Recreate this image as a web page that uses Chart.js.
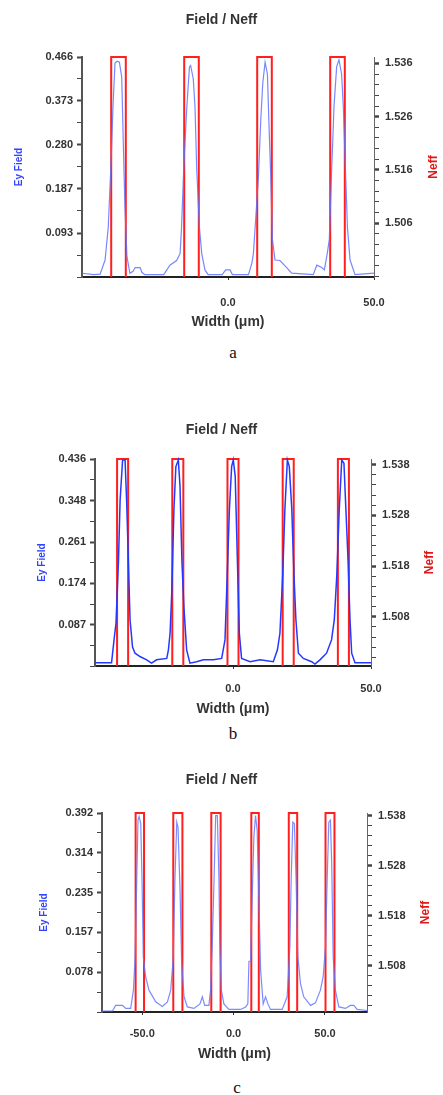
<!DOCTYPE html>
<html>
<head>
<meta charset="utf-8">
<script src="https://cdn.jsdelivr.net/npm/chart.js@4.4.0/dist/chart.umd.min.js"></script>
<style>
  body { margin: 0; background: #fff; width: 443px; height: 1095px; position: relative; overflow: hidden; }
  canvas { position: absolute; left: 0; }
  .cap { position: absolute; width: 30px; text-align: center; font: 17px "Liberation Serif", serif; color: #111; }
</style>
</head>
<body>
<canvas id="ca" width="443" height="335" style="top:0"></canvas>
<canvas id="cb" width="443" height="312" style="top:410px"></canvas>
<canvas id="cc" width="443" height="307" style="top:760px"></canvas>
<div class="cap" style="left:218px;top:343px">a</div>
<div class="cap" style="left:218px;top:724px">b</div>
<div class="cap" style="left:222px;top:1078px">c</div>
<script>
// panel a
const aX =     [-50, -46, -43.8, -42.1, -41, -40, -39.4, -38.7, -38, -37.2, -36.4, -35.8, -35.3, -34.6, -33.6, -32.5, -31.8, -30.1, -29.5, -28.5,
                -22, -19.9, -17.6, -16.4, -15.9, -15.1, -14.1, -13.2, -12.8, -11.9, -11.3, -10.7, -9.8, -9, -7.9, -6.8, -2, -0.8, 0.7, 1.5,
                7, 8.2, 8.7, 9.2, 10.4, 11.2, 11.9, 12.7, 13.5, 14, 14.6, 15.2, 16.1, 17.8, 20.1, 21.8, 29.2, 30.4, 32.1, 33,
                34, 34.7, 35.5, 36.3, 37.2, 38, 38.9, 39.5, 40.1, 40.9, 41.8, 43.5, 50]
const aField = [0.008, 0.005, 0.006, 0.036, 0.106, 0.25, 0.36, 0.453, 0.457, 0.455, 0.424, 0.27, 0.149, 0.043, 0.008, 0.012, 0.02, 0.02, 0.01, 0.005,
                0.005, 0.025, 0.035, 0.05, 0.106, 0.24, 0.36, 0.445, 0.448, 0.42, 0.36, 0.226, 0.106, 0.05, 0.015, 0.005, 0.005, 0.015, 0.015, 0.005,
                0.005, 0.03, 0.05, 0.096, 0.21, 0.33, 0.41, 0.455, 0.43, 0.33, 0.22, 0.08, 0.036, 0.035, 0.02, 0.008, 0.005, 0.025, 0.02, 0.015,
                0.05, 0.08, 0.226, 0.36, 0.445, 0.46, 0.43, 0.36, 0.25, 0.106, 0.036, 0.005, 0.008]
const aGuideStart = [-40, -15, 10, 35]
const aGuideEnd = [-35, -10, 15, 40]
const aIndex = [1.4959, 1.5372]
const aRange = [-50, 50]
const aLeftLabels = ['0.093', '0.187', '0.280', '0.373', '0.466']
const aRightLabels = ['1.506', '1.516', '1.526', '1.536']
const aXLabels = ['0.0', '50.0']

// panel b
const bX =     [-50, -44, -43.1, -42.4, -41.5, -40.9, -40, -39.1, -38.5, -37.9, -37.3, -36.4, -35.5, -33.7, -31.3, -29.5, -27.7, -24, -23.4, -22.8,
                -22.2, -21.4, -20.7, -19.8, -19.2, -18.5, -17.8, -16.8, -15.6, -13.2, -10.7, -7.1, -4.1, -2.9, -2.1, -1.3, -0.5, 0.1, 0.8, 1.6,
                2.3, 3.1, 6.2, 9.8, 14.6, 16.1, 17, 18, 18.8, 19.7, 20.4, 21.3, 22.1, 22.8, 23.7, 25.5, 28.5, 29.7, 31.5, 33.9,
                35.7, 36.7, 37.6, 38.5, 39.4, 40.2, 40.9, 41.7, 42.4, 43, 44.2, 50]
const bField = [0.007, 0.007, 0.055, 0.09, 0.22, 0.35, 0.434, 0.434, 0.34, 0.22, 0.097, 0.04, 0.027, 0.02, 0.013, 0.006, 0.013, 0.016, 0.034, 0.069,
                0.153, 0.33, 0.42, 0.434, 0.378, 0.22, 0.125, 0.034, 0.006, 0.009, 0.013, 0.013, 0.016, 0.055, 0.19, 0.33, 0.42, 0.434, 0.40, 0.22,
                0.069, 0.016, 0.009, 0.013, 0.009, 0.034, 0.069, 0.19, 0.33, 0.434, 0.42, 0.33, 0.19, 0.097, 0.027, 0.016, 0.009, 0.004, 0.013, 0.027,
                0.055, 0.097, 0.19, 0.33, 0.434, 0.427, 0.33, 0.22, 0.097, 0.027, 0.007, 0.007]
const bGuideStart = [-42, -22, -2, 18, 38]
const bGuideEnd = [-38, -18, 2, 22, 42]
const bIndex = [1.4983, 1.5391]
const bRange = [-50, 50]
const bLeftLabels = ['0.087', '0.174', '0.261', '0.348', '0.436']
const bRightLabels = ['1.508', '1.518', '1.528', '1.538']
const bXLabels = ['0.0', '50.0']

// panel c
const cX =     [-72, -66.3, -64.5, -60.8, -59, -56.3, -54.8, -53.9, -53, -52.3, -51.7, -50.8, -50.1, -49.4, -48.1, -46.3, -42.6, -39, -36.2, -34.4,
                -33, -32.1, -31.1, -30.4, -29.3, -28.4, -27.1, -25.3, -21.7, -18.4, -17.1, -15.8, -13.5, -12.6, -11.7, -10.7, -9.8, -8.9, -8, -7.5,
                -6.7, -5.3, -2.6, 3.8, 6.6, 7.8, 8.4, 9.3, 10.2, 11.1, 12, 12.9, 13.8, 14.8, 16.2, 17.5, 18.8, 20.2, 26.6, 29.3,
                30.8, 31.5, 32.4, 33.3, 34.2, 35.2, 36.6, 38.4, 42.1, 44.8, 47.5, 49, 50.3, 51.2, 52.1, 53, 53.7, 54.5, 55.7, 57.6,
                61.2, 63.9, 65.8, 67.6, 73]
const cField = [0.002, 0.002, 0.013, 0.013, 0.007, 0.007, 0.043, 0.108, 0.26, 0.378, 0.385, 0.371, 0.26, 0.108, 0.069, 0.043, 0.02, 0.011, 0.02, 0.043,
                0.108, 0.26, 0.374, 0.364, 0.24, 0.095, 0.03, 0.01, 0.007, 0.016, 0.03, 0.013, 0.013, 0.043, 0.128, 0.26, 0.387, 0.387, 0.26, 0.128,
                0.043, 0.016, 0.005, 0.005, 0.01, 0.016, 0.1, 0.1, 0.227, 0.345, 0.387, 0.358, 0.227, 0.082, 0.016, 0.03, 0.016, 0.005, 0.005, 0.03,
                0.128, 0.26, 0.374, 0.371, 0.26, 0.108, 0.056, 0.03, 0.013, 0.018, 0.043, 0.069, 0.128, 0.26, 0.374, 0.378, 0.292, 0.108, 0.043, 0.01,
                0.007, 0.013, 0.013, 0.005, 0.003]
const cGuideStart = [-53.6, -33, -12.2, 9.7, 30.2, 50.3]
const cGuideEnd = [-49, -28, -7.1, 13.8, 34.8, 55.2]
const cIndex = [1.4987, 1.5385]
const cRange = [-72, 73]
const cLeftLabels = ['0.078', '0.157', '0.235', '0.314', '0.392']
const cRightLabels = ['1.508', '1.518', '1.528', '1.538']
const cXLabels = ['-50.0', '0.0', '50.0']

Chart.defaults.font.family = 'Liberation Sans'
Chart.defaults.animation = false

const tickFont = { family: 'Liberation Sans', weight: 'bold', size: 11 }
const near = (a, b) => Math.abs(a - b) < 1e-6

// index profile: one closed box per guide, gaps between them so the bottom stays black
function indexProfile(starts, ends, idx) {
    const pts = []
    starts.forEach((s, i) => {
        pts.push({ x: s, y: idx[0] }, { x: s, y: idx[1] }, { x: ends[i], y: idx[1] }, { x: ends[i], y: idx[0] })
        pts.push({ x: ends[i], y: null })
    })
    return pts
}

// right axis title reads bottom to top, like the left one
const neffTitle = {
    id: 'neffTitle',
    afterDraw(chart, args, opts) {
        const ctx = chart.ctx
        const a = chart.chartArea
        ctx.save()
        ctx.translate(opts.x, (a.top + a.bottom) / 2)
        ctx.rotate(-Math.PI / 2)
        ctx.fillStyle = '#e01818'
        ctx.font = 'bold 12px "Liberation Sans"'
        ctx.textAlign = 'center'
        ctx.textBaseline = 'middle'
        ctx.fillText('Neff', 0, 0)
        ctx.restore()
    }
}

function makePanel(id, p) {
    const leftMajor = p.left.map(Number)
    const leftTicks = [0]
    leftMajor.forEach((v, i) => {
        const prev = i === 0 ? 0 : leftMajor[i - 1]
        leftTicks.push((prev + v) / 2, v)
    })
    const rightMajor = p.right.map(Number)
    const step = (rightMajor[1] - rightMajor[0]) / 5
    const rightTicks = []
    for (let v = rightMajor[0]; v > p.index[0]; v -= step) rightTicks.push(v)
    for (let v = rightMajor[0] + step; v < p.index[1]; v += step) rightTicks.push(v)
    const xTicks = p.xlab.map(Number)
    const b = p.box

    return new Chart(document.getElementById(id), {
        type: 'line',
        data: {
            datasets: [{
                label: 'Neff',
                data: indexProfile(p.starts, p.ends, p.index),
                yAxisID: 'y2',
                borderColor: '#ff1f1f',
                borderWidth: 2,
                pointRadius: 0,
                spanGaps: false,
                clip: false,
                order: 1
            }, {
                label: 'Ey Field',
                data: p.x.map((x, i) => ({ x: x, y: p.field[i] })),
                yAxisID: 'y',
                borderColor: p.blue,
                borderWidth: p.blueWidth,
                pointRadius: 0,
                clip: false,
                order: 0
            }]
        },
        plugins: [neffTitle],
        options: {
            responsive: false,
            layout: { padding: 0 },
            plugins: {
                legend: { display: false },
                tooltip: { enabled: false },
                neffTitle: { x: b.neffX },
                title: {
                    display: true,
                    text: 'Field / Neff',
                    color: '#333',
                    font: { family: 'Liberation Sans', weight: 'bold', size: 14 },
                    padding: { top: b.titleTop, bottom: b.titleBottom }
                }
            },
            scales: {
                x: {
                    type: 'linear',
                    min: p.range[0],
                    max: p.range[1],
                    afterFit: s => { s.height = b.xH },
                    afterBuildTicks: s => { s.ticks = xTicks.map(v => ({ value: v })) },
                    ticks: {
                        autoSkip: false,
                        maxRotation: 0,
                        padding: b.xPad,
                        color: '#333',
                        font: tickFont,
                        callback: v => {
                            const i = xTicks.findIndex(t => near(t, v))
                            return i < 0 ? '' : p.xlab[i]
                        }
                    },
                    grid: { drawOnChartArea: false, tickLength: 3, tickColor: '#333' },
                    border: { color: '#222', width: 2 },
                    title: {
                        display: true,
                        text: 'Width (μm)',
                        color: '#333',
                        font: { family: 'Liberation Sans', weight: 'bold', size: 14 },
                        padding: { top: 0, bottom: 4 }
                    }
                },
                y: {
                    position: 'left',
                    min: 0,
                    max: leftMajor[leftMajor.length - 1],
                    afterFit: s => { s.width = b.leftW },
                    afterBuildTicks: s => { s.ticks = leftTicks.map(v => ({ value: v })) },
                    ticks: {
                        autoSkip: false,
                        padding: 4,
                        color: '#333',
                        font: tickFont,
                        callback: v => {
                            const i = leftMajor.findIndex(t => near(t, v))
                            return i < 0 ? '' : p.left[i]
                        }
                    },
                    grid: {
                        drawOnChartArea: false,
                        tickLength: 5,
                        tickColor: '#444',
                        tickWidth: ctx => leftMajor.some(t => near(t, ctx.tick.value)) ? 2 : 1
                    },
                    border: { color: '#555', width: 2 },
                    title: {
                        display: true,
                        text: 'Ey Field',
                        color: '#3344ff',
                        font: { family: 'Liberation Sans', weight: 'bold', size: 10 },
                        padding: { top: b.yTitlePad, bottom: 0 }
                    }
                },
                y2: {
                    position: 'right',
                    min: p.index[0],
                    max: p.index[1],
                    afterFit: s => { s.width = b.rightW },
                    afterBuildTicks: s => { s.ticks = rightTicks.map(v => ({ value: v })) },
                    ticks: {
                        autoSkip: false,
                        padding: 6,
                        color: '#333',
                        font: tickFont,
                        callback: v => {
                            const i = rightMajor.findIndex(t => near(t, v))
                            return i < 0 ? '' : p.right[i]
                        }
                    },
                    grid: {
                        drawOnChartArea: false,
                        tickLength: 5,
                        tickColor: '#444',
                        tickWidth: ctx => rightMajor.some(t => near(t, ctx.tick.value)) ? 2.5 : 1
                    },
                    border: { color: '#666', width: 1 }
                }
            }
        }
    })
}

makePanel('ca', {
    x: aX, field: aField, starts: aGuideStart, ends: aGuideEnd, index: aIndex, range: aRange,
    left: aLeftLabels, right: aRightLabels, xlab: aXLabels,
    blue: 'rgba(95,115,255,0.85)', blueWidth: 1.2,
    box: { leftW: 82, rightW: 69, xH: 58, titleTop: 12, titleBottom: 28.2, xPad: 16, yTitlePad: 13, neffX: 434 }
})
makePanel('cb', {
    x: bX, field: bField, starts: bGuideStart, ends: bGuideEnd, index: bIndex, range: bRange,
    left: bLeftLabels, right: bRightLabels, xlab: bXLabels,
    blue: '#2638ff', blueWidth: 1.5,
    box: { leftW: 95, rightW: 72, xH: 56, titleTop: 12, titleBottom: 20.2, xPad: 13, yTitlePad: 36, neffX: 430 }
})
makePanel('cc', {
    x: cX, field: cField, starts: cGuideStart, ends: cGuideEnd, index: cIndex, range: cRange,
    left: cLeftLabels, right: cRightLabels, xlab: cXLabels,
    blue: 'rgba(100,120,255,0.85)', blueWidth: 1.2,
    box: { leftW: 102, rightW: 76, xH: 55, titleTop: 12, titleBottom: 24.2, xPad: 12, yTitlePad: 38, neffX: 426 }
})
</script>
</body>
</html>
